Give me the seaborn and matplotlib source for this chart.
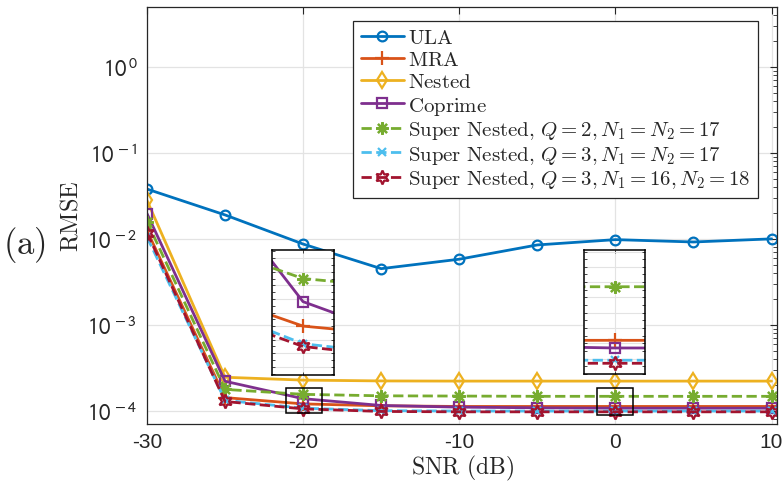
import numpy as np
import matplotlib
matplotlib.use("Agg")
import matplotlib.pyplot as plt
from matplotlib.ticker import LogLocator, MultipleLocator, NullFormatter
from matplotlib.patches import Rectangle
import seaborn as sns

snr = [-30, -25, -20, -15, -10, -5, 0, 5, 10]
ula = [0.038, 0.019, 0.0087, 0.0045, 0.0058, 0.0085, 0.0098, 0.0092, 0.0100]
mra = [0.0125, 1.42e-4, 1.20e-4, 1.14e-4, 1.12e-4, 1.12e-4, 1.12e-4, 1.12e-4, 1.12e-4]
nested = [0.028, 2.45e-4, 2.27e-4, 2.22e-4, 2.21e-4, 2.21e-4, 2.21e-4, 2.21e-4, 2.21e-4]
coprime = [0.0197, 2.2e-4, 1.38e-4, 1.15e-4, 1.10e-4, 1.08e-4, 1.07e-4, 1.07e-4, 1.07e-4]
sn_q2 = [0.0159, 1.77e-4, 1.55e-4, 1.49e-4, 1.48e-4, 1.47e-4, 1.47e-4, 1.47e-4, 1.47e-4]
sn_q3 = [0.0105, 1.32e-4, 1.07e-4, 1.00e-4, 0.99e-4, 0.99e-4, 0.99e-4, 0.99e-4, 0.99e-4]
sn_q3b = [0.0118, 1.28e-4, 1.05e-4, 0.98e-4, 0.97e-4, 0.97e-4, 0.97e-4, 0.97e-4, 0.97e-4]

labels = [r"$\mathrm{ULA}$", r"$\mathrm{MRA}$", r"$\mathrm{Nested}$", r"$\mathrm{Coprime}$",
          r"$\mathrm{Super\ Nested},\,Q=2,N_1=N_2=17$",
          r"$\mathrm{Super\ Nested},\,Q=3,N_1=N_2=17$",
          r"$\mathrm{Super\ Nested},\,Q=3,N_1=16,N_2=18$"]
series = [ula, mra, nested, coprime, sn_q2, sn_q3, sn_q3b]
colors = ["#0072BD", "#D95319", "#EDB120", "#7E2F8E", "#77AC30", "#4DBEEE", "#A2142F"]
styles = [
    dict(marker="o", hollow=True, ms=7, ls="-"),
    dict(marker="+", hollow=False, ms=10, ls="-"),
    dict(marker="d", hollow=True, ms=8, ls="-"),
    dict(marker="s", hollow=True, ms=7, ls="-"),
    dict(marker=(8, 2, 0), hollow=False, ms=9, ls="--"),
    dict(marker="x", hollow=False, ms=6, ls="--"),
    dict(marker=(6, 1, 0), hollow=True, ms=10, ls="--"),
]

sns.set_style("white")
plt.rcParams["font.family"] = ["Liberation Serif", "DejaVu Serif"]
plt.rcParams["mathtext.fontset"] = "cm"
plt.rcParams["axes.unicode_minus"] = False

fig = plt.figure(figsize=(7.82, 4.85), dpi=100)
ax = fig.add_axes([147 / 782, 1 - 425 / 485, 630 / 782, 417 / 485])
ax.set_yscale("log")


def draw(a, with_label):
    for vals, lab, c, st in zip(series, labels, colors, styles):
        sns.lineplot(x=snr, y=vals, ax=a, color=c, linestyle=st["ls"], linewidth=2,
                     marker=st["marker"], markersize=st["ms"],
                     markeredgecolor=c, markeredgewidth=1.6,
                     markerfacecolor="none" if st["hollow"] else c,
                     label=lab if with_label else None, legend=False)


draw(ax, True)
ax.set_xlim(-30, 10.35)
ax.set_ylim(7e-5, 5)
ax.set_xticks([-30, -20, -10, 0, 10])
ax.set_xticklabels(["-30", "-20", "-10", "0", "10"], fontfamily="Liberation Sans", fontsize=15)
yt = [1e-4, 1e-3, 1e-2, 1e-1, 1e0]
ax.set_yticks(yt)
ax.set_yticklabels([r"$10^{\,%d}$" % round(np.log10(v)) for v in yt],
                   math_fontfamily="stixsans", fontsize=16.5)
ax.yaxis.set_minor_locator(LogLocator(base=10, subs=np.arange(2, 10), numticks=20))
ax.yaxis.set_minor_formatter(NullFormatter())
ax.tick_params(axis="both", which="both", direction="in", top=True, right=True, colors="#262626")
ax.tick_params(which="major", length=5)
ax.tick_params(which="minor", length=3)
ax.tick_params(axis="y", pad=7)
ax.tick_params(axis="x", pad=6)
ax.grid(True, which="major", color="#e3e3e3", linewidth=0.9)
for s in ax.spines.values():
    s.set_color("#262626")
    s.set_linewidth(0.9)
ax.set_xlabel(r"$\mathrm{SNR\ (dB)}$", fontsize=17, labelpad=1)
ax.set_ylabel(r"$\mathrm{RMSE}$", fontsize=17.5, labelpad=3)

leg = ax.legend(loc="upper right", bbox_to_anchor=(0.97, 0.966), borderaxespad=0,
                fontsize=15, frameon=True, fancybox=False, edgecolor="#262626",
                framealpha=1, handlelength=2.1, labelspacing=0.12, handletextpad=0.2,
                borderpad=0.35)
leg.get_frame().set_linewidth(0.9)

fig.text(3 / 782, 1 - 245 / 485, r"$\mathrm{(a)}$", fontsize=25, va="center")

# zoom boxes
ax.add_patch(Rectangle((-21.1, 0.95e-4), 2.3, 0.9e-4, fill=False, ec="k", lw=1.1, zorder=5))
ax.add_patch(Rectangle((-1.15, 0.88e-4), 2.3, 0.97e-4, fill=False, ec="k", lw=1.1, zorder=5))

# insets
insets = [([272, 251, 62, 125], (-21.8, -18.2), (0.84e-4, 1.76e-4)),
          ([584, 251, 61, 124], (-1.8, 1.8), (0.9e-4, 1.71e-4))]
for (px, py, pw, ph), xl, yl in insets:
    ia = fig.add_axes([px / 782, 1 - (py + ph) / 485, pw / 782, ph / 485])
    draw(ia, False)
    ia.set_xlim(*xl)
    ia.set_ylim(*yl)
    ia.set_xticks([sum(xl) / 2])
    ia.yaxis.set_major_locator(MultipleLocator(1e-5))
    ia.yaxis.set_minor_locator(MultipleLocator(0.5e-5))
    ia.set_xticklabels([])
    ia.set_yticklabels([])
    ia.set_xlabel("")
    ia.set_ylabel("")
    ia.tick_params(which="both", direction="in", left=True, right=True, top=True, bottom=True,
                   length=2, width=0.6)
    ia.grid(True, which="major", color="#e3e3e3", linewidth=0.8)
    ia.set_facecolor("white")
    for s in ia.spines.values():
        s.set_color("k")
        s.set_linewidth(1.1)

fig.savefig("out.png", dpi=100)
